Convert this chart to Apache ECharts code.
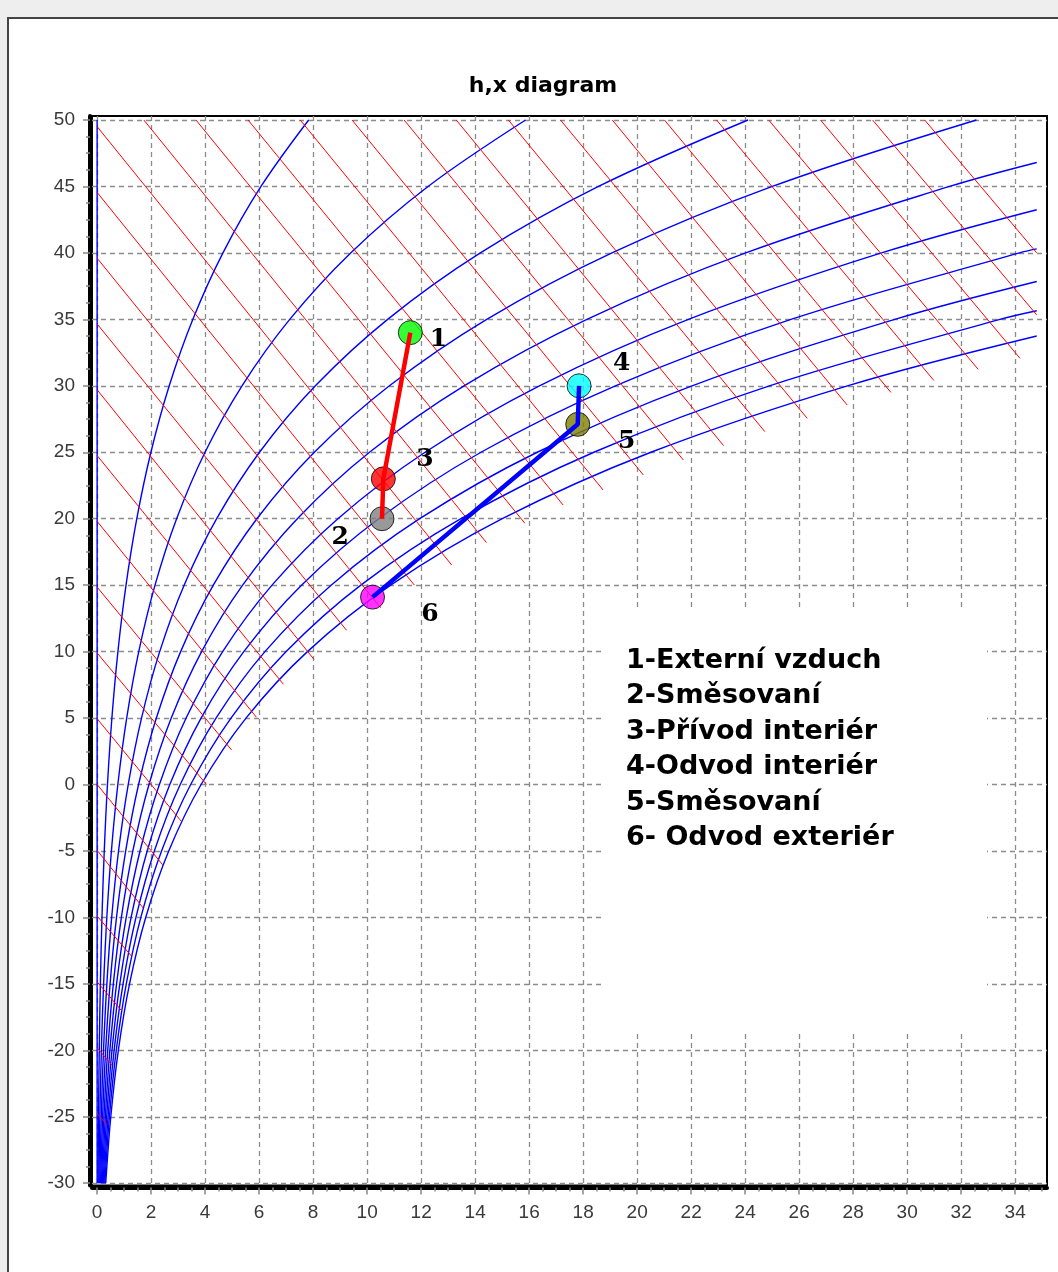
<!DOCTYPE html>
<html><head><meta charset="utf-8">
<script src="https://cdn.jsdelivr.net/npm/echarts@6/dist/echarts.min.js"></script>
<style>
html,body{margin:0;padding:0;background:#eeeeee;}
body{width:1058px;height:1272px;overflow:hidden;position:relative;}
#frame{position:absolute;left:7px;top:17px;width:1100px;height:1300px;border:2px solid #444;background:#fff;box-sizing:border-box;}
#chart{position:absolute;left:0;top:0;width:1058px;height:1272px;}
</style></head><body>
<div id="frame"></div>
<div id="chart"></div>
<script>
// ---- axis ticks ----
const xTicks = [0,2,4,6,8,10,12,14,16,18,20,22,24,26,28,30,32,34];
const yTicks = [-30,-25,-20,-15,-10,-5,0,5,10,15,20,25,30,35,40,45,50];

// ---- relative humidity curves: x [g/kg] read at these temperatures [°C] ----
const tempSteps = [-30,-25,-20,-15,-10,-5,0,5,10,15,20,25,30,35,40,45,50];
const rh0   = [0,0,0,0,0,0,0,0,0,0,0,0,0,0,0,0,0];
const rh10  = [0.032,0.051,0.079,0.120,0.179,0.264,0.383,0.547,0.770,1.070,1.469,1.992,2.671,3.546,4.660,6.069,7.834];
const rh20  = [0.064,0.101,0.157,0.240,0.359,0.529,0.767,1.095,1.542,2.144,2.944,3.996,5.366,7.133,9.391,12.256,15.868];
const rh30  = [0.096,0.152,0.236,0.360,0.539,0.793,1.151,1.644,2.317,3.222,4.427,6.014,8.083,10.760,14.194,18.568,24.108];
const rh40  = [0.128,0.202,0.315,0.480,0.718,1.058,1.535,2.194,3.093,4.303,5.917,8.045,10.826,14.430,19.068,25.006,32.566];
const rh50  = [0.160,0.253,0.393,0.600,0.898,1.323,1.920,2.745,3.870,5.388,7.414,10.088,13.590,18.142,24.020,31.575];
const rh60  = [0.191,0.304,0.472,0.720,1.078,1.588,2.306,3.296,4.650,6.477,8.917,12.146,16.381,21.899,29.049];
const rh70  = [0.223,0.354,0.550,0.840,1.258,1.854,2.692,3.849,5.432,7.569,10.429,14.216,19.195,25.699,34.157];
const rh80  = [0.255,0.405,0.629,0.960,1.438,2.120,3.078,4.403,6.215,8.666,11.947,16.301,22.034,29.544];
const rh90  = [0.287,0.455,0.708,1.080,1.618,2.386,3.465,4.958,7.002,9.767,13.474,18.397,24.899,33.438];
const rh100 = [0.319,0.506,0.786,1.200,1.799,2.652,3.852,5.514,7.789,10.871,15.006,20.510,27.789];
const rhCurves = [rh0, rh10, rh20, rh30, rh40, rh50, rh60, rh70, rh80, rh90, rh100];
// where the curves that leave through the right edge end
const rhEndX = [null,null,null,null,null,34.8,34.8,34.8,34.8,34.8,34.8];
const rhEndT = [null,null,null,null,null,46.8,43.25,40.3,37.85,35.65,33.75];

// ---- constant enthalpy lines [kJ/kg] ----
const enthalpy  = [-25,-20,-15,-10,-5,0,5,10,15,20,25,30,35,40,45,50,55,60,65,70,75,80,85,90,95,100,105,110,115,120,125,130];
const hStartX = [0,0,0,0,0,0,0,0,0,0,0,0,0,0,0,0,1.73,3.66,5.59,7.52,9.44,11.37,13.30,15.23,17.16,19.08,21.01,22.94,24.87,26.79,28.72,30.65];
const hStartT = [-24.75,-19.8,-14.85,-9.9,-4.95,0,4.95,9.9,14.85,19.8,24.75,29.7,34.65,39.6,44.55,49.5,50,50,50,50,50,50,50,50,50,50,50,50,50,50,50,50];
const hEndX   = [0.36,0.54,0.90,1.27,1.71,2.45,3.13,4.05,4.98,5.90,6.90,8.03,9.24,10.5,11.75,13.13,14.42,15.84,17.26,18.74,20.23,21.71,23.2,24.73,26.3,27.78,29.4,30.99,32.63,34.18,34.8,34.8];
const hEndT   = [-25.6,-21.1,-17.0,-12.9,-9.3,-6.1,-2.8,0.0,2.6,5.06,7.54,9.42,11.6,13.3,15.0,16.52,18.2,19.66,21.03,22.16,23.29,24.42,25.5,26.55,27.55,28.55,29.5,30.4,31.24,32.07,35.33,40.0];

// ---- process points ----
const pointNames  = ['1','2','3','4','5','6'];
const pointX      = [11.6, 10.55, 10.6, 17.85, 17.8, 10.2];
const pointT      = [34.0, 20.0, 23.0, 30.0, 27.1, 14.1];
const pointColors = ['#00ff00','#808080','#ff0000','#00ffff','#808000','#ff00ff'];
const labelX      = [12.64, 9.0, 12.14, 19.43, 19.61, 12.33];
const labelT      = [33.45, 18.55, 24.42, 31.69, 25.8, 12.76];
const redPath  = [0, 2, 1];
const bluePath = [3, 4, 5];

const legendLines = ['1-Externí vzduch','2-Směsovaní','3-Přívod interiér','4-Odvod interiér','5-Směsovaní','6- Odvod exteriér'];

// minor tick positions
const xMinorTicks = []; for (let v = 0; v <= 35.001; v += 0.5) xMinorTicks.push(+v.toFixed(2));
const yMinorTicks = []; for (let v = -30; v <= 50.001; v += 1.25) yMinorTicks.push(+v.toFixed(2));

const X_MIN = -0.19, X_MAX = 35.18, Y_MIN = -30.17, Y_MAX = 50.30;

const series = [];
rhCurves.forEach((c, k) => {
  const pts = c.map((x, i) => [x, tempSteps[i]]);
  if (rhEndX[k] != null) pts.push([rhEndX[k], rhEndT[k]]);
  series.push({type:'line', data:pts, smooth:0.35, showSymbol:false, symbol:'none',
    lineStyle:{color:'#0000ff', width:1.4}, z:2, silent:true});
});
enthalpy.forEach((h, k) => {
  series.push({type:'line', data:[[hStartX[k], hStartT[k]], [hEndX[k], hEndT[k]]],
    showSymbol:false, symbol:'none', lineStyle:{color:'#ff0000', width:1}, z:3, silent:true});
});
series.push({type:'scatter', symbol:'circle', symbolSize:24, z:4,
  data: pointX.map((x,i)=>({value:[x, pointT[i]], itemStyle:{color:pointColors[i], borderColor:'#000', borderWidth:1}}))});
series.push({type:'line', data: redPath.map(i=>[pointX[i], pointT[i]]), showSymbol:false, symbol:'none',
  lineStyle:{color:'#ff0000', width:4.5}, z:5});
series.push({type:'line', data: bluePath.map(i=>[pointX[i], pointT[i]]), showSymbol:false, symbol:'none',
  lineStyle:{color:'#0000ff', width:4.5}, z:5});
series.push({type:'scatter', symbol:'circle', symbolSize:2, itemStyle:{color:'rgba(0,0,0,0)'}, z:6,
  data: labelX.map((x,i)=>({value:[x, labelT[i]], name: pointNames[i]})),
  label:{show:true, position:'inside', formatter: p => p.name, opacity:1,
    fontFamily:'DejaVu Serif', fontWeight:'bold', fontSize:25, color:'#000', textBorderWidth:0}});

const tickLabelStyle = {fontSize:19, fontFamily:'Liberation Sans', color:'#3a3a3a'};
const tickLine = {color:'#888', width:1.5};
const split = {show:true, lineStyle:{color:'#8c8c8c', width:1.3, type:[5,4]}};

const legendGraphics = legendLines.map((t, i) => ({
  type:'text', left: 626, top: 643 + i*35.5, z: 3,
  style:{text:t, fontFamily:'DejaVu Sans', fontWeight:'bold', fontSize:27, fill:'#000', lineHeight:35.5, verticalAlign:'top'}
}));

const chart = echarts.init(document.getElementById('chart'), null, {renderer:'canvas'});
chart.setOption({
  animation:false,
  backgroundColor:'transparent',
  grid:{left:92, top:116, width:955, height:1069.5, show:true, borderColor:'#000', borderWidth:2, backgroundColor:'transparent'},
  xAxis:[
    {type:'value', min:X_MIN, max:X_MAX, position:'bottom', offset:2,
     axisLine:{show:true, onZero:false, lineStyle:{color:'#000', width:4}},
     axisTick:{show:true, customValues:xTicks, length:7, lineStyle:tickLine},
     axisLabel:Object.assign({show:true, customValues:xTicks, margin:16}, tickLabelStyle),
     splitLine:split},
    {type:'value', min:X_MIN, max:X_MAX, position:'bottom', offset:2,
     axisLine:{show:false, onZero:false},
     axisTick:{show:true, customValues:xMinorTicks, length:4, lineStyle:tickLine},
     axisLabel:{show:false}, splitLine:{show:false}}
  ],
  yAxis:[
    {type:'value', min:Y_MIN, max:Y_MAX, position:'left', offset:2,
     axisLine:{show:true, onZero:false, lineStyle:{color:'#000', width:4}},
     axisTick:{show:true, customValues:yTicks, length:7, lineStyle:tickLine},
     axisLabel:Object.assign({show:true, customValues:yTicks, margin:15}, tickLabelStyle),
     splitLine:split},
    {type:'value', min:Y_MIN, max:Y_MAX, position:'left', offset:2,
     axisLine:{show:false, onZero:false},
     axisTick:{show:true, customValues:yMinorTicks, length:4, lineStyle:tickLine},
     axisLabel:{show:false}, splitLine:{show:false}}
  ],
  graphic:[
    {type:'text', x:543, y:86, z:3,
     style:{text:'h,x diagram', fontFamily:'DejaVu Sans', fontWeight:'bold', fontSize:22, fill:'#000', align:'center', verticalAlign:'middle'}},
    {type:'rect', shape:{x:605, y:607, width:382, height:425}, style:{fill:'#fff'}, z:1}
  ].concat(legendGraphics),
  series: series
});
</script>
</body></html>
